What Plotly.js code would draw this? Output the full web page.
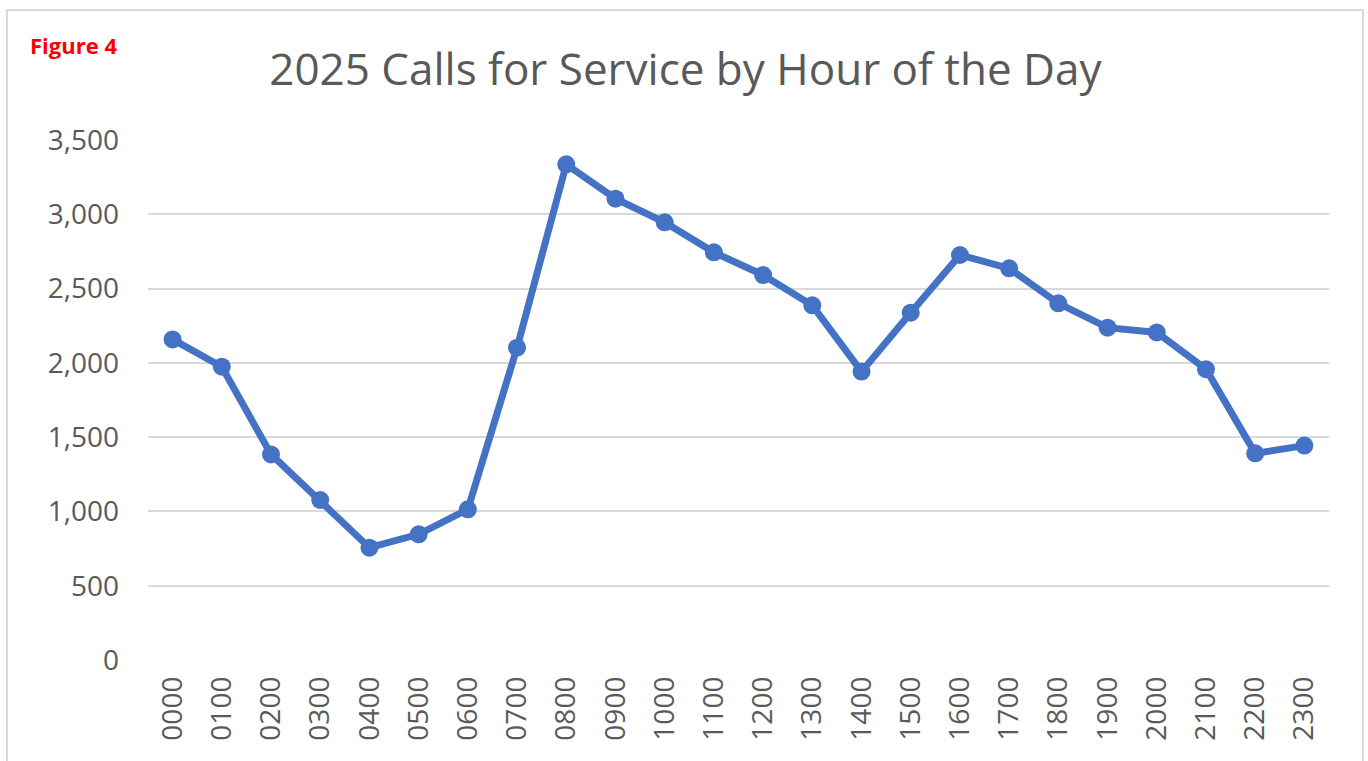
<!DOCTYPE html>
<html>
<head>
<meta charset="utf-8">
<script src="https://cdn.plot.ly/plotly-3.0.1.min.js"></script>
<style>html,body{margin:0;padding:0;background:#fff;}#chart{width:1368px;height:761px;}</style>
</head>
<body>
<div id="chart"></div>
<script>
const hours = ["0000","0100","0200","0300","0400","0500","0600","0700","0800","0900","1000","1100","1200","1300","1400","1500","1600","1700","1800","1900","2000","2100","2200","2300"];
const calls = [2158,1974,1384,1077,756,846,1014,2102,3336,3105,2946,2744,2591,2387,1941,2338,2726,2636,2401,2237,2205,1957,1391,1443];
const yTicks = [0,500,1000,1500,2000,2500,3000,3500];
const yTickText = ["0","500","1,000","1,500","2,000","2,500","3,000","3,500"];

const trace = {
  x: hours.map((h,i)=>i),
  y: calls,
  type: 'scatter',
  mode: 'lines+markers',
  line: {color:'#4472C4', width:7},
  marker: {color:'#4472C4', size:18},
  hoverinfo: 'x+y'
};

const layout = {
  width:1368, height:761,
  margin:{l:148, r:39, t:140, b:101},
  paper_bgcolor:'#fff', plot_bgcolor:'#fff',
  showlegend:false,
  font:{family:'Open Sans, sans-serif', color:'#595959'},
  title:{text:'2025 Calls for Service by Hour of the Day', font:{size:44, color:'#595959', family:'Open Sans, sans-serif'}, xref:'container', x:0.501, xanchor:'center', yref:'container', y:0.909, yanchor:'middle'},
  xaxis:{
    range:[-0.5,23.5], tickmode:'array', tickvals:hours.map((h,i)=>i), ticktext:hours,
    tickangle:-90, showgrid:false, zeroline:false, showline:false, ticks:'',
    tickfont:{size:28, color:'#595959'}, ticklabelstandoff:10, fixedrange:true
  },
  yaxis:{
    range:[0,3500], tickmode:'array', tickvals:yTicks, ticktext:yTickText,
    showgrid:true, gridcolor:'#D9D9D9', gridwidth:2, zeroline:false, showline:false, ticks:'',
    tickfont:{size:28, color:'#595959'}, ticklabelstandoff:28, fixedrange:true
  },
  annotations:[{text:'<b>Figure 4</b>', xref:'paper', yref:'paper', x:-0.1016, y:1.1827, xanchor:'left', yanchor:'middle', showarrow:false, font:{size:22, color:'#FF0000', family:'Open Sans, sans-serif'}}],
  shapes:[{type:'rect', xref:'paper', yref:'paper', x0:-0.1194, x1:1.0288, y0:-0.21, y1:1.25, line:{color:'#D9D9D9', width:2}, fillcolor:'rgba(0,0,0,0)', layer:'below'}]
};

Plotly.newPlot('chart',[trace],layout,{displayModeBar:false, staticPlot:true});
</script>
</body>
</html>
